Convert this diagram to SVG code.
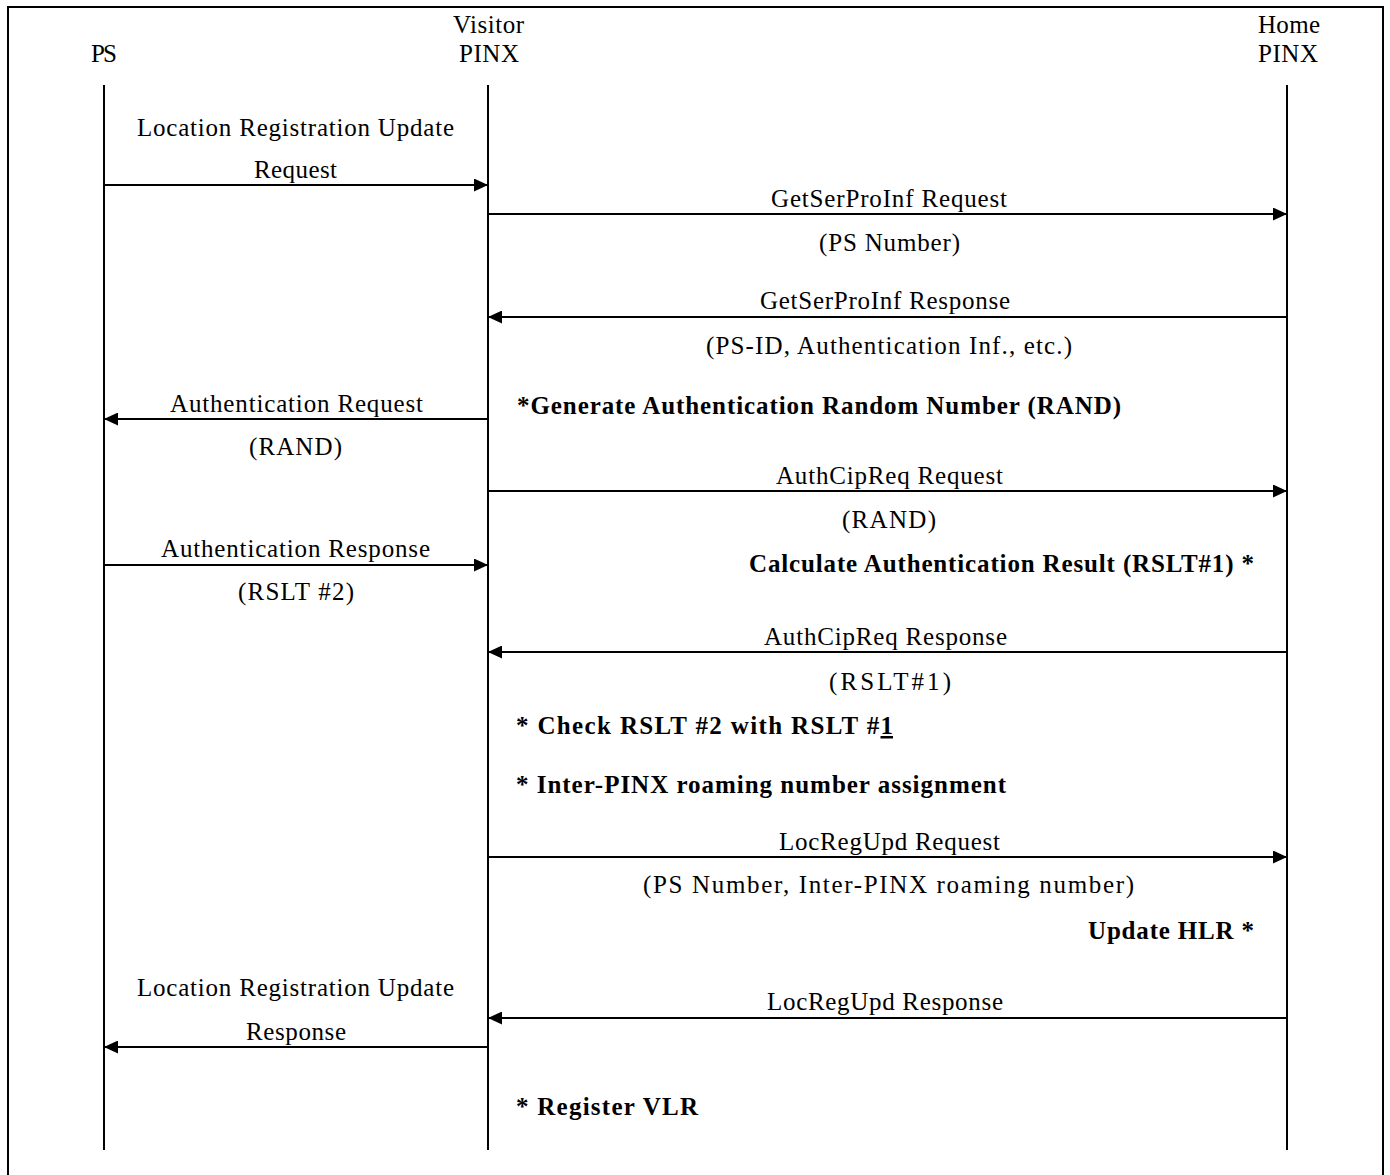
<svg xmlns="http://www.w3.org/2000/svg" width="1390" height="1175" viewBox="0 0 1390 1175">
<style>
text{font-family:"Liberation Serif","Times New Roman",serif;font-size:25px;fill:#000}
.b{font-weight:bold}
.life{stroke:#000;stroke-width:2;fill:none}
.msg{stroke:#000;stroke-width:2;fill:none;marker-end:url(#ah)}
</style>
<defs>
<marker id="ah" markerUnits="userSpaceOnUse" markerWidth="14" markerHeight="13" refX="14" refY="6.5" orient="auto">
<path d="M0,0 L14,6.5 L0,13 z" fill="#000"/>
</marker>
</defs>
<rect x="8" y="7" width="1375" height="1190" fill="#fff" stroke="#000" stroke-width="2"/>
<g id="node-ps">
<text x="91" y="62" textLength="26" lengthAdjust="spacing">PS</text>
<line class="life" x1="104" y1="85" x2="104" y2="1150"/>
</g>
<g id="node-visitor">
<text x="453" y="33" textLength="71" lengthAdjust="spacing">Visitor</text>
<text x="459" y="62" textLength="60" lengthAdjust="spacing">PINX</text>
<line class="life" x1="488" y1="85" x2="488" y2="1150"/>
</g>
<g id="node-home">
<text x="1258" y="33" textLength="62" lengthAdjust="spacing">Home</text>
<text x="1258" y="62" textLength="60" lengthAdjust="spacing">PINX</text>
<line class="life" x1="1287" y1="85" x2="1287" y2="1150"/>
</g>
<g id="connectors">
<line class="msg" x1="104" y1="185" x2="488" y2="185"/>
<line class="msg" x1="488" y1="214" x2="1287" y2="214"/>
<line class="msg" x1="1287" y1="317" x2="488" y2="317"/>
<line class="msg" x1="488" y1="419" x2="104" y2="419"/>
<line class="msg" x1="488" y1="491" x2="1287" y2="491"/>
<line class="msg" x1="104" y1="565" x2="488" y2="565"/>
<line class="msg" x1="1287" y1="652" x2="488" y2="652"/>
<line class="msg" x1="488" y1="857" x2="1287" y2="857"/>
<line class="msg" x1="1287" y1="1018" x2="488" y2="1018"/>
<line class="msg" x1="488" y1="1047" x2="104" y2="1047"/>
</g>
<g id="labels">
<text x="137" y="136" textLength="317" lengthAdjust="spacing">Location Registration Update</text>
<text x="254" y="178" textLength="83" lengthAdjust="spacing">Request</text>
<text x="771" y="207" textLength="236" lengthAdjust="spacing">GetSerProInf Request</text>
<text x="819" y="251" textLength="141" lengthAdjust="spacing">(PS Number)</text>
<text x="760" y="309" textLength="250" lengthAdjust="spacing">GetSerProInf Response</text>
<text x="706" y="354" textLength="366" lengthAdjust="spacing">(PS-ID, Authentication Inf., etc.)</text>
<text x="170" y="412" textLength="253" lengthAdjust="spacing">Authentication Request</text>
<text class="b" x="517" y="414" textLength="604" lengthAdjust="spacing">*Generate Authentication Random Number (RAND)</text>
<text x="249" y="455" textLength="93" lengthAdjust="spacing">(RAND)</text>
<text x="776" y="484" textLength="227" lengthAdjust="spacing">AuthCipReq Request</text>
<text x="842" y="528" textLength="94" lengthAdjust="spacing">(RAND)</text>
<text x="161" y="557" textLength="269" lengthAdjust="spacing">Authentication Response</text>
<text class="b" x="749" y="572" textLength="505" lengthAdjust="spacing">Calculate Authentication Result (RSLT#1) *</text>
<text x="238" y="600" textLength="116" lengthAdjust="spacing">(RSLT #2)</text>
<text x="764" y="645" textLength="243" lengthAdjust="spacing">AuthCipReq Response</text>
<text x="829" y="690" textLength="122" lengthAdjust="spacing">(RSLT#1)</text>
<text class="b" x="516" y="734" textLength="377" lengthAdjust="spacing">* Check RSLT #2 with RSLT #<tspan text-decoration="underline">1</tspan></text>
<text class="b" x="516" y="793" textLength="490" lengthAdjust="spacing">* Inter-PINX roaming number assignment</text>
<text x="779" y="850" textLength="221" lengthAdjust="spacing">LocRegUpd Request</text>
<text x="643" y="893" textLength="491" lengthAdjust="spacing">(PS Number, Inter-PINX roaming number)</text>
<text class="b" x="1088" y="939" textLength="166" lengthAdjust="spacing">Update HLR *</text>
<text x="137" y="996" textLength="317" lengthAdjust="spacing">Location Registration Update</text>
<text x="767" y="1010" textLength="236" lengthAdjust="spacing">LocRegUpd Response</text>
<text x="246" y="1040" textLength="100" lengthAdjust="spacing">Response</text>
<text class="b" x="516" y="1115" textLength="182" lengthAdjust="spacing">* Register VLR</text>
</g>
</svg>
